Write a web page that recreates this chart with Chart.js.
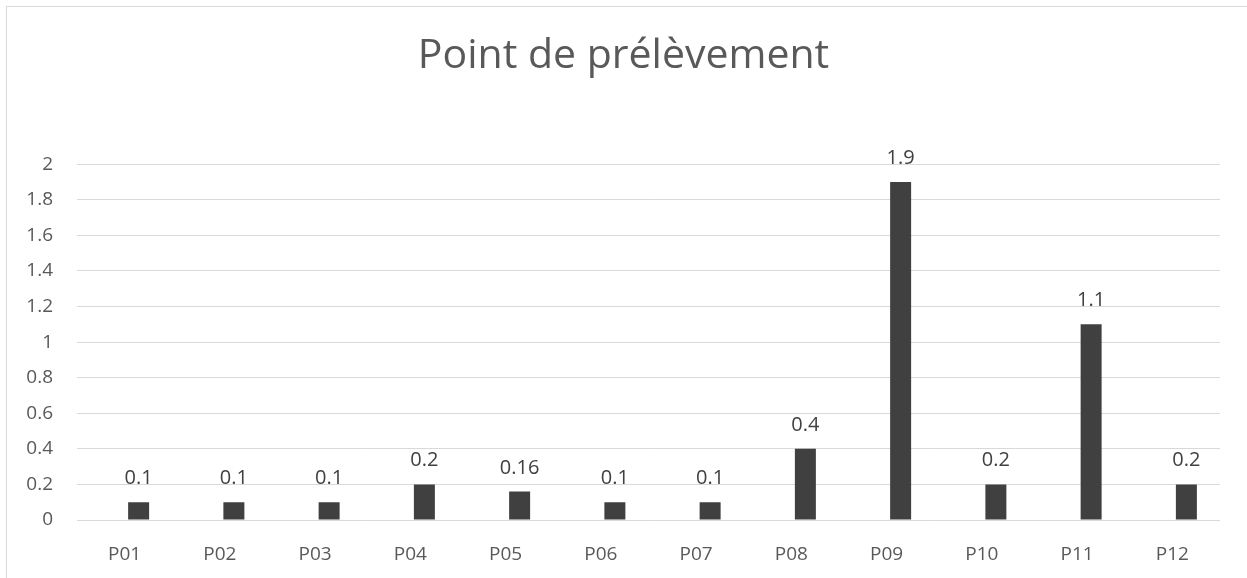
<!DOCTYPE html>
<html>
<head>
<meta charset="utf-8">
<script src="https://cdn.jsdelivr.net/npm/chart.js@4"></script>
<style>
  html, body { margin: 0; padding: 0; background: #fff; overflow: hidden; }
  #wrap { position: relative; width: 1247px; height: 578px; }
  #frame { position: absolute; left: 6px; top: 6px; width: 1400px; height: 700px;
           border: 1px solid #d9d9d9; pointer-events: none; }
</style>
</head>
<body>
<div id="wrap">
  <canvas id="chart" width="1247" height="578"></canvas>
  <div id="frame"></div>
</div>
<script>
const categories = ['P01', 'P02', 'P03', 'P04', 'P05', 'P06', 'P07', 'P08', 'P09', 'P10', 'P11', 'P12'];
const values = [0.1, 0.1, 0.1, 0.2, 0.16, 0.1, 0.1, 0.4, 1.9, 0.2, 1.1, 0.2];
const yTicks = [0, 0.2, 0.4, 0.6, 0.8, 1, 1.2, 1.4, 1.6, 1.8, 2];

const FONT = '"Open Sans", "Noto Sans", sans-serif';

// value labels over the bars
const barLabels = {
    id: 'barLabels',
    afterDatasetsDraw(chart) {
        const ctx = chart.ctx;
        const meta = chart.getDatasetMeta(1);
        ctx.save();
        ctx.font = '20px ' + FONT;
        ctx.fillStyle = '#404040';
        ctx.textAlign = 'center';
        ctx.textBaseline = 'alphabetic';
        meta.data.forEach((bar, i) => {
            ctx.fillText(String(values[i]), bar.x, bar.y - 18);
        });
        ctx.restore();
    }
};

new Chart(document.getElementById('chart'), {
    type: 'bar',
    data: {
        labels: categories,
        datasets: [
            // empty series, keeps the Excel-like offset of the bars
            { label: '', data: [], backgroundColor: 'rgba(0,0,0,0)' },
            {
                label: 'Point de prélèvement',
                data: values,
                backgroundColor: '#404040',
                borderWidth: 0,
                categoryPercentage: 0.588,
                barPercentage: 0.75,
            },
        ],
    },
    options: {
        responsive: false,
        animation: false,
        layout: { padding: 0 },
        datasets: { bar: { categoryPercentage: 0.588, barPercentage: 0.75 } },
        plugins: {
            legend: { display: false },
            tooltip: { enabled: false },
            title: {
                display: true,
                text: 'Point de prélèvement',
                color: '#595959',
                font: { family: FONT, size: 41, weight: 'normal' },
                padding: { top: 32, bottom: 83 },
            },
        },
        scales: {
            x: {
                grid: { display: false },
                border: { display: false },
                ticks: {
                    color: '#595959',
                    font: { family: FONT, size: 19 },
                    padding: 15,
                },
                afterFit(scale) { scale.height = 58; },
            },
            y: {
                min: 0,
                max: 2,
                afterBuildTicks(scale) {
                    scale.ticks = yTicks.map(v => ({ value: v }));
                },
                grid: { color: '#d9d9d9', drawTicks: false, lineWidth: 1 },
                border: { display: false },
                ticks: {
                    color: '#595959',
                    font: { family: FONT, size: 19 },
                    padding: 24,
                    callback: v => String(v),
                },
                afterFit(scale) { scale.width = 77; },
            },
            // blank right margin so the title stays centred on the whole frame
            yRight: {
                type: 'linear',
                position: 'right',
                min: 0,
                max: 2,
                grid: { display: false },
                border: { display: false },
                ticks: { display: false },
                afterFit(scale) { scale.width = 27; },
            },
        },
    },
    plugins: [barLabels],
});
</script>
</body>
</html>
